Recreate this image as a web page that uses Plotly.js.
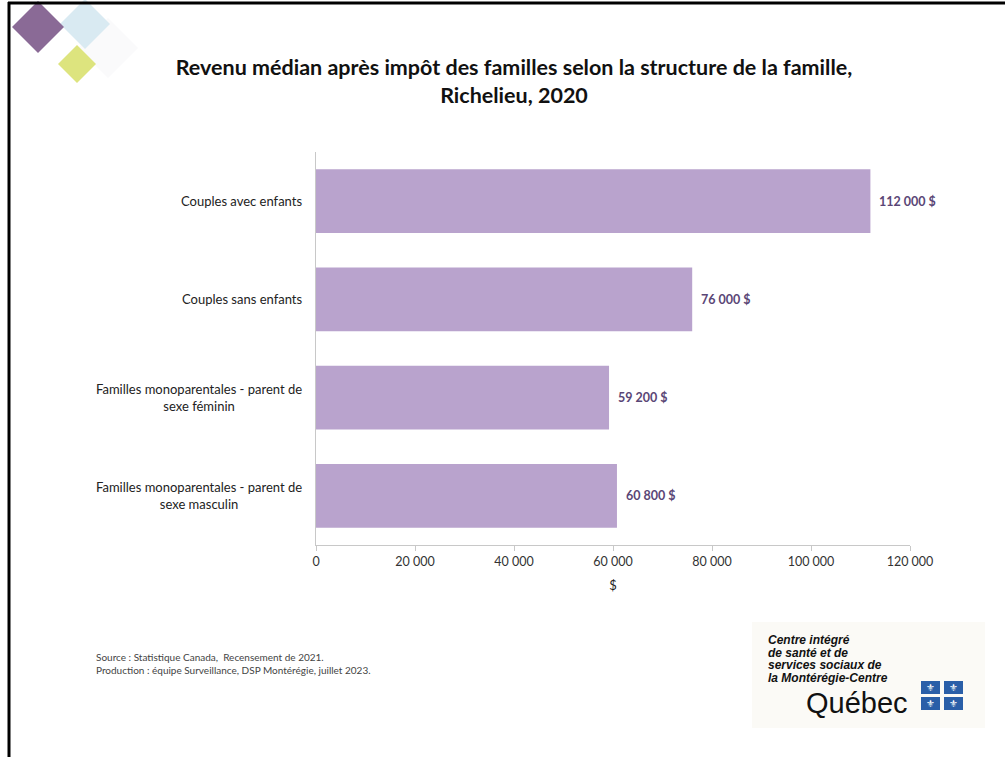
<!DOCTYPE html>
<html>
<head>
<meta charset="utf-8">
<script src="https://cdn.plot.ly/plotly-3.0.1.min.js"></script>
<style>html,body{margin:0;padding:0;background:#fff;}#chart{width:1005px;height:757px;}</style>
</head>
<body>
<div id="chart"></div>
<script>
// ---- data ----
const categories = [
  "Couples avec enfants",
  "Couples sans enfants",
  "Familles monoparentales - parent de<br>sexe féminin",
  "Familles monoparentales - parent de<br>sexe masculin"
];
const values = [112000, 76000, 59200, 60800];
const xTickValues = [0, 20000, 40000, 60000, 80000, 100000, 120000];
const titleText = "Revenu médian après impôt des familles selon la structure de la famille,<br>Richelieu, 2020";
const xAxisTitle = "$";
const sourceLines = [
  "Source : Statistique Canada,  Recensement de 2021.",
  "Production : équipe Surveillance, DSP Montérégie, juillet 2023."
];
const logoLines = ["Centre intégré", "de santé et de", "services sociaux de", "la Montérégie-Centre"];

// ---- layout geometry ----
const W = 1005, H = 757;
const L = 316, R = 910, T = 152, B = 545;
const px = x => (x - L) / (R - L);
const py = y => (B - y) / (B - T);

const FONT = "Lato, 'Open Sans', sans-serif";

const fmt = v => String(v).replace(/\B(?=(\d{3})+(?!\d))/g, " ") + " $";

const trace = {
  type: "bar",
  orientation: "h",
  y: categories,
  x: values,
  marker: {color: "#b9a3cd", line: {width: 0}},
  hoverinfo: "x+y"
};

const annotations = [];
// value labels
values.forEach((v, i) => {
  annotations.push({
    xref: "x", yref: "y", x: v, y: categories[i], xanchor: "left", yanchor: "middle", xshift: 7,
    text: "<b>" + fmt(v) + "</b>", showarrow: false,
    font: {family: FONT, size: 12.5, color: "#5a4676"}
  });
});
// category labels (centered lines, right-aligned block)
categories.forEach((c, i) => {
  annotations.push({
    xref: "paper", yref: "y", x: px(304), y: c, xanchor: "right", yanchor: "middle",
    text: c, showarrow: false, align: "center",
    font: {family: FONT, size: 13, color: "#222"}
  });
});
// source lines
sourceLines.forEach((s, i) => {
  annotations.push({
    xref: "paper", yref: "paper", x: px(94), y: py(657 + i * 13), xanchor: "left", yanchor: "middle",
    text: s, showarrow: false, align: "left",
    font: {family: FONT, size: 10, color: "#444"}
  });
});
// logo text
logoLines.forEach((s, i) => {
  annotations.push({
    xref: "paper", yref: "paper", x: px(766), y: py(640 + i * 12.7), xanchor: "left", yanchor: "middle",
    text: "<b><i>" + s + "</i></b>", showarrow: false, align: "left",
    font: {family: "'Liberation Sans', Arial, sans-serif", size: 12, color: "#111"}
  });
});
annotations.push({
  xref: "paper", yref: "paper", x: px(804), y: py(703), xanchor: "left", yanchor: "middle",
  text: "Québec", showarrow: false,
  font: {family: "'Liberation Sans', Arial, sans-serif", size: 29, color: "#111"}
});

const shapes = [];
// page border (top and left)
shapes.push({type: "line", xref: "paper", yref: "paper", x0: px(8), x1: px(1005), y0: py(3), y1: py(3), line: {color: "#000", width: 3}});
shapes.push({type: "line", xref: "paper", yref: "paper", x0: px(9), x1: px(9), y0: py(2), y1: py(757), line: {color: "#000", width: 3}});
// decorative diamonds
function diamond(cx, cy, r, color, opacity) {
  const p = [[cx, cy - r], [cx + r, cy], [cx, cy + r], [cx - r, cy]];
  return {type: "path", xref: "paper", yref: "paper",
    path: "M" + p.map(q => px(q[0]) + "," + py(q[1])).join(" L") + " Z",
    fillcolor: color, opacity: opacity, line: {width: 0}, layer: "below"};
}
shapes.push(diamond(108, 48, 30, "#fafafb", 1));
shapes.push(diamond(85, 24, 25, "#d9eaf2", 1));
shapes.push(diamond(38, 27, 26, "#8a6a96", 1));
shapes.push(diamond(77, 64, 19, "#dde47e", 1));
// logo background
shapes.push({type: "rect", xref: "paper", yref: "paper", x0: px(752), x1: px(985), y0: py(622), y1: py(728), fillcolor: "#fbfaf6", line: {width: 0}, layer: "below"});
// flag squares
[[921, 681], [944, 681], [921, 697], [944, 697]].forEach(p => {
  shapes.push({type: "rect", xref: "paper", yref: "paper", x0: px(p[0]), x1: px(p[0] + 19), y0: py(p[1]), y1: py(p[1] + 13), fillcolor: "#2a5fa8", line: {width: 0}});
  annotations.push({xref: "paper", yref: "paper", x: px(p[0] + 9.5), y: py(p[1] + 6.5), xanchor: "center", yanchor: "middle",
    text: "⚜", showarrow: false, font: {family: "DejaVu Sans", size: 10, color: "#fff"}});
});

const layout = {
  width: W, height: H,
  margin: {l: L, r: W - R, t: T, b: H - B, pad: 0},
  paper_bgcolor: "#fff", plot_bgcolor: "#fff",
  separators: ", ",
  showlegend: false,
  bargap: 0.35,
  title: {
    text: "<b>" + titleText + "</b>",
    xref: "container", yref: "container",
    x: 514 / W, xanchor: "center",
    y: 1 - 75 / H, yanchor: "top",
    font: {family: FONT, size: 21.5, color: "#111"}
  },
  xaxis: {
    range: [0, 120000],
    tickvals: xTickValues,
    tickformat: ",.0f",
    showgrid: false, zeroline: false,
    showline: true, linecolor: "#c8c8c8", linewidth: 1,
    ticks: "outside", ticklen: 5, tickcolor: "#c8c8c8",
    tickfont: {family: FONT, size: 12.5, color: "#333"},
    title: {text: xAxisTitle, standoff: 12, font: {family: FONT, size: 13, color: "#222"}},
    fixedrange: true
  },
  yaxis: {
    autorange: "reversed",
    showticklabels: false,
    showgrid: false, zeroline: false,
    showline: true, linecolor: "#c8c8c8", linewidth: 1,
    ticks: "",
    fixedrange: true
  },
  annotations: annotations,
  shapes: shapes
};

Plotly.newPlot("chart", [trace], layout, {displayModeBar: false, staticPlot: true});
</script>
</body>
</html>
